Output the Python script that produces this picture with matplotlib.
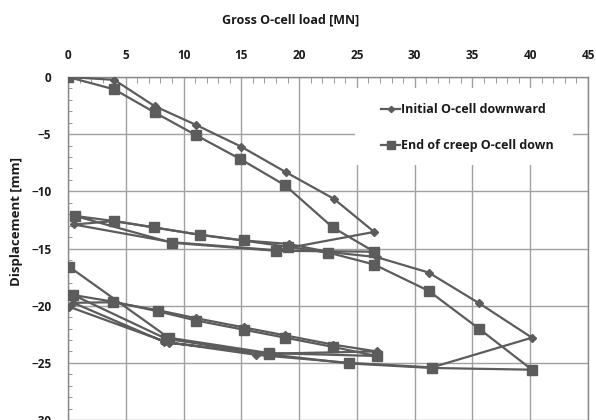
import matplotlib
matplotlib.use("Agg")
import matplotlib.pyplot as plt
from matplotlib.patches import Rectangle
from matplotlib.ticker import MultipleLocator

plt.rcParams['font.family'] = ['Open Sans', 'DejaVu Sans']
plt.rcParams['font.weight'] = 'bold'

# Series: Initial O-cell downward (diamonds)
load_init = [0, 4.0, 7.5, 11.1, 15.0, 18.9, 23.0, 26.5,
             18.0, 9.0, 0.5,
             4.0, 7.4, 11.4, 15.2, 19.1, 22.5, 26.7, 31.2, 35.6, 40.15,
             31.5, 24.3, 16.3, 8.3, 0.46,
             3.9, 7.8, 11.1, 15.2, 18.8, 22.9, 26.7,
             17.4, 8.7, 0.1]
disp_init = [0, -0.25, -2.55, -4.2, -6.1, -8.35, -10.65, -13.55,
             -15.15, -14.45, -12.9,
             -12.6, -13.15, -13.8, -14.3, -14.6, -15.3, -15.75, -17.1, -19.8, -22.8,
             -25.4, -25.0, -24.3, -23.15, -19.75,
             -19.7, -20.4, -21.1, -21.9, -22.6, -23.4, -24.0,
             -24.2, -23.25, -20.1]

# Series: End of creep O-cell down (squares)
load_creep = [0, 4.0, 7.5, 11.1, 14.9, 18.8, 22.9, 26.5,
              18.0, 9.0, 0.6,
              4.0, 7.4, 11.4, 15.2, 19.0, 22.5, 26.5, 31.2, 35.55, 40.15,
              31.5, 24.3, 17.4, 8.5, 0.46,
              3.9, 7.8, 11.1, 15.2, 18.8, 22.9, 26.7,
              17.4, 8.7, 0.1]
disp_creep = [0, -1.08, -3.1, -5.1, -7.17, -9.48, -13.15, -15.28,
              -15.2, -14.5, -12.15,
              -12.6, -13.15, -13.8, -14.3, -14.85, -15.35, -16.4, -18.7, -22.0, -25.6,
              -25.45, -25.05, -24.25, -22.9, -19.07,
              -19.65, -20.5, -21.3, -22.1, -22.8, -23.6, -24.4,
              -24.15, -22.8, -16.6]

series_names = ["Initial O-cell downward", "End of creep O-cell down"]
x_label = "Gross O-cell load [MN]"
y_label = "Displacement [mm]"

W, H = 596, 420
fig = plt.figure(figsize=(W / 100, H / 100), dpi=100)
ax = fig.add_axes([68 / W, 0.0, 520 / W, 343 / H])

col = '#5c5c5c'
ax.plot(load_init, disp_init, color=col, lw=1.6, marker='D', ms=4,
        mfc=col, mec=col, label=series_names[0], zorder=3)
ax.plot(load_creep, disp_creep, color=col, lw=1.6, marker='s', ms=6.5,
        mfc=col, mec=col, label=series_names[1], zorder=4)

ax.set_xlim(0, 45)
ax.set_ylim(-30, 0)
ax.xaxis.set_major_locator(MultipleLocator(5))
ax.xaxis.set_minor_locator(MultipleLocator(1))
ax.yaxis.set_major_locator(MultipleLocator(5))
ax.yaxis.set_minor_locator(MultipleLocator(1))
ax.xaxis.tick_top()
ax.tick_params(axis='x', which='major', direction='in', length=0, pad=11,
               labelsize=8.5, colors='#1a1a1a', top=True, bottom=False)
ax.tick_params(axis='x', which='minor', direction='in', length=4, color='#888888',
               top=True, bottom=False)
ax.tick_params(axis='y', which='major', direction='in', length=0, pad=12,
               labelsize=8.5, colors='#1a1a1a')
ax.tick_params(axis='y', which='minor', direction='in', length=3, color='#888888')
for t in ax.get_xticklabels() + ax.get_yticklabels():
    t.set_fontweight('bold')

ax.grid(True, which='major', color='#a0a0a0', lw=1.0)
ax.set_axisbelow(True)
for s in ['left', 'top', 'right']:
    ax.spines[s].set_color('#888888')
    ax.spines[s].set_linewidth(1.0)
ax.spines['bottom'].set_visible(False)

# white area behind the legend
x0 = (355 - 68) / 520
x1 = (573 - 68) / 520
y0 = (420 - 165) / 343
y1 = (420 - 88) / 343
ax.add_patch(Rectangle((x0, y0), x1 - x0, y1 - y0, transform=ax.transAxes,
                       facecolor='white', edgecolor='none', zorder=1))

leg = ax.legend(loc='upper left', bbox_to_anchor=((375 - 68) / 520, (420 - 97) / 343),
                frameon=False, fontsize=9, handlelength=1.5, handletextpad=0.1,
                labelspacing=1.85, borderpad=0.0, markerscale=0.8)
for t in leg.get_texts():
    t.set_fontweight('bold')
    t.set_color('#1a1a1a')

fig.text(291 / W, 1 - 20 / H, x_label, ha='center', va='center',
         fontsize=9, fontweight='bold', color='#1a1a1a')
fig.text(17 / W, 1 - 221 / H, y_label, ha='center', va='center', rotation=90,
         fontsize=9.5, fontweight='bold', color='#1a1a1a')

fig.savefig('out.png', dpi=100)
